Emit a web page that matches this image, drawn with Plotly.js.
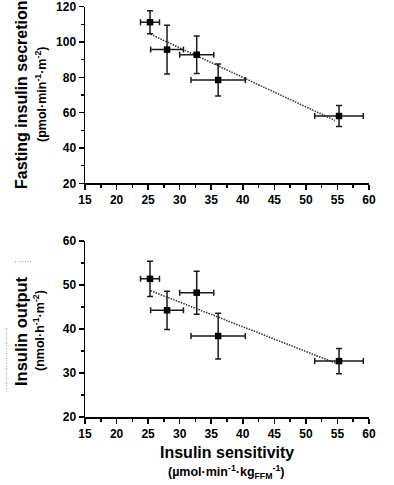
<!DOCTYPE html>
<html>
<head>
<meta charset="utf-8">
<script src="https://cdn.plot.ly/plotly-3.0.1.min.js"></script>
<style>
html,body{margin:0;padding:0;background:#fff;}
#chart{width:394px;height:485px;}
</style>
</head>
<body>
<div id="chart"></div>
<script>
// Data
var sensitivity = [25.3, 28.0, 32.7, 36.1, 55.25];
var sensitivityErr = [1.5, 2.6, 2.7, 4.3, 3.85];
var fastingSecretion = [111.2, 95.7, 92.8, 78.5, 58.1];
var fastingSecretionErr = [6.5, 13.8, 10.6, 9.0, 6.0];
var insulinOutput = [51.4, 44.25, 48.25, 38.4, 32.7];
var insulinOutputErr = [4.0, 4.35, 4.9, 5.2, 2.85];
var trendTopX = [25.4, 54.6];
var trendTopY = [104.4, 55.6];
var trendBottomX = [25.4, 54.8];
var trendBottomY = [48.7, 32.2];

var W = 394, H = 485;
function px(x){ return x / W; }
function py(y){ return 1 - y / H; }

var FONT = 'Liberation Sans, Arial, Helvetica, sans-serif';
var ink = '#1a1a1a';

function trend(x, y, xa, ya){
  return {x:x, y:y, xaxis:xa, yaxis:ya, mode:'lines', type:'scatter',
    line:{color:'#3a3a3a', width:1.6, dash:'1.5px,1.2px'}, hoverinfo:'skip'};
}
function points(x, y, ex, ey, xa, ya){
  return {x:x, y:y, xaxis:xa, yaxis:ya, mode:'markers', type:'scatter',
    marker:{symbol:'square', size:6.5, color:'#000'},
    error_x:{type:'data', array:ex, visible:true, color:ink, thickness:1.5, width:3},
    error_y:{type:'data', array:ey, visible:true, color:ink, thickness:1.5, width:3},
    cliponaxis:false};
}

var data = [
  trend(trendTopX, trendTopY, 'x', 'y'),
  points(sensitivity, fastingSecretion, sensitivityErr, fastingSecretionErr, 'x', 'y'),
  trend(trendBottomX, trendBottomY, 'x2', 'y2'),
  points(sensitivity, insulinOutput, sensitivityErr, insulinOutputErr, 'x2', 'y2')
];

var tickFont = {family:FONT, size:12, color:'#000', weight:'bold'};
function xAxis(anchor){
  return {domain:[px(85), px(369)], range:[15,60], anchor:anchor,
    tick0:15, dtick:5, ticks:'outside', ticklen:5, tickwidth:1.5, tickcolor:'#000',
    showline:true, linewidth:1.5, linecolor:'#000', showgrid:false, zeroline:false,
    tickfont:tickFont, fixedrange:true, ticklabeloverflow:'allow',
    minor:{tick0:15, dtick:2.5, ticks:'outside', ticklen:3, tickwidth:1.5, tickcolor:'#000', showgrid:false}};
}
function yAxis(anchor, dom, range, dt){
  return {domain:dom, range:range, anchor:anchor,
    tick0:range[0], dtick:dt, ticks:'outside', ticklen:5, tickwidth:1.5, tickcolor:'#000',
    showline:true, linewidth:1.5, linecolor:'#000', showgrid:false, zeroline:false,
    tickfont:tickFont, fixedrange:true, ticklabeloverflow:'allow',
    minor:{tick0:range[0], dtick:dt/2, ticks:'outside', ticklen:3, tickwidth:1.5, tickcolor:'#000', showgrid:false}};
}

function ann(text, x, y, size, angle){
  return {text:text, xref:'paper', yref:'paper', x:px(x), y:py(y),
    xanchor:'center', yanchor:'middle', showarrow:false, textangle:angle,
    font:{family:FONT, size:size, color:'#000', weight:'bold'}};
}

var layout = {
  width:W, height:H,
  margin:{l:0, r:0, t:0, b:0},
  paper_bgcolor:'#fff', plot_bgcolor:'#fff',
  showlegend:false,
  xaxis:xAxis('y'),
  yaxis:yAxis('x', [py(183.3), py(6.7)], [20,120], 20),
  xaxis2:xAxis('y2'),
  yaxis2:yAxis('x2', [py(417), py(241)], [20,60], 10),
  annotations:[
    ann('Fasting insulin secretion', 22, 95, 16, -90),
    ann('(pmol·min<sup>-1</sup>·m<sup>-2</sup>)', 41, 95, 12.5, -90),
    ann('Insulin output', 21, 331, 16.5, -90),
    ann('(nmol·h<sup>-1</sup>·m<sup>-2</sup>)', 39, 331, 12.5, -90),
    ann('Insulin sensitivity', 227, 452, 16, 0),
    ann('(µmol·min<sup>-1</sup>·kg<sub>FFM</sub><sup>-1</sup>)', 226, 472, 12.5, 0)
  ],
  shapes:[
    {type:'line', xref:'paper', yref:'paper', x0:px(15), x1:px(32), y0:py(261.7), y1:py(261.7),
      line:{color:'#9a9a9a', width:1, dash:'1px,1.5px'}},
    {type:'line', xref:'paper', yref:'paper', x0:px(6.7), x1:px(6.7), y0:py(328), y1:py(393),
      line:{color:'#9a9a9a', width:1, dash:'1px,1.5px'}}
  ]
};

Plotly.newPlot('chart', data, layout, {staticPlot:true, displayModeBar:false});
</script>
</body>
</html>
